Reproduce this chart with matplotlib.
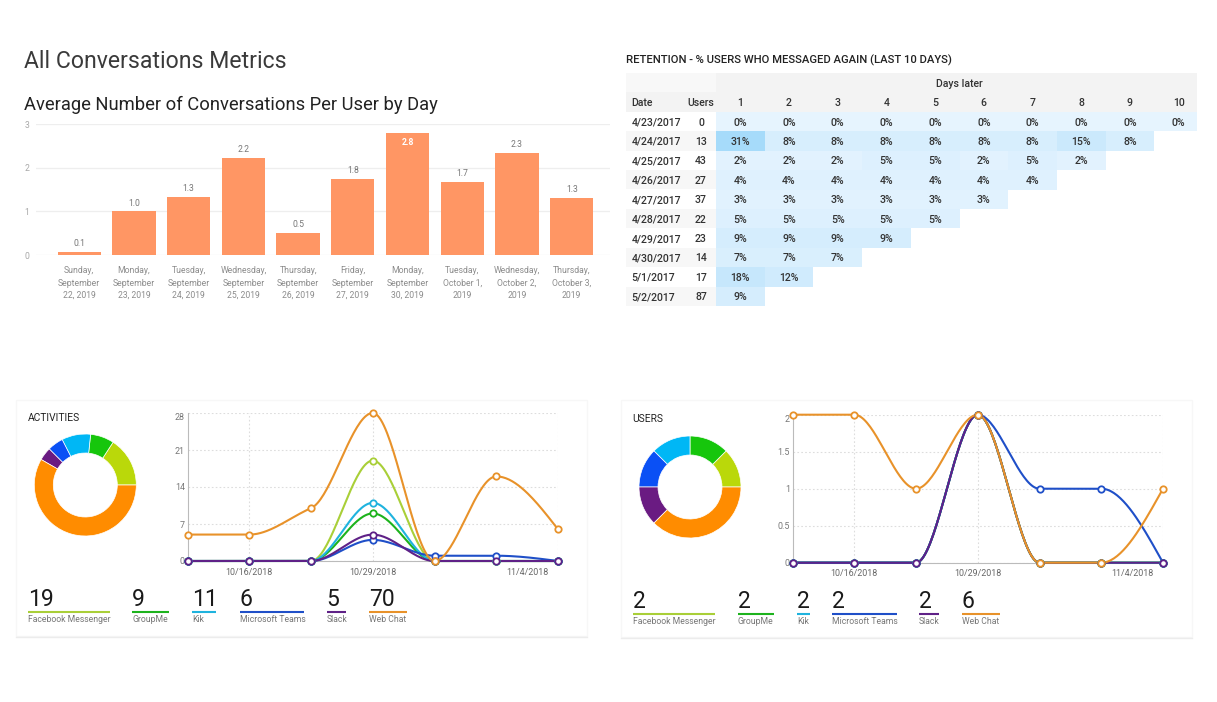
"""All Conversations Metrics dashboard: bars, retention table, two activity cards."""
import matplotlib

matplotlib.use("Agg")
import matplotlib.pyplot as plt
import numpy as np
from matplotlib.colors import LinearSegmentedColormap
from matplotlib.patches import Rectangle

W, H = 1217, 702
FONT = ["Roboto", "Noto Sans", "DejaVu Sans"]
plt.rcParams["font.family"] = FONT

# --- bar chart
day_labels = [
    "Sunday,\nSeptember\n22, 2019", "Monday,\nSeptember\n23, 2019", "Tuesday,\nSeptember\n24, 2019",
    "Wednesday,\nSeptember\n25, 2019", "Thursday,\nSeptember\n26, 2019", "Friday,\nSeptember\n27, 2019",
    "Monday,\nSeptember\n30, 2019", "Tuesday,\nOctober 1,\n2019", "Wednesday,\nOctober 2,\n2019",
    "Thursday,\nOctober 3,\n2019",
]
avg_conversations = [0.08, 1.0, 1.33, 2.22, 0.5, 1.75, 2.8, 1.67, 2.34, 1.3]
avg_labels = ["0.1", "1.0", "1.3", "2.2", "0.5", "1.8", "2.8", "1.7", "2.3", "1.3"]

# --- retention table
retention_dates = ["4/23/2017", "4/24/2017", "4/25/2017", "4/26/2017", "4/27/2017",
                   "4/28/2017", "4/29/2017", "4/30/2017", "5/1/2017", "5/2/2017"]
retention_users = [0, 13, 43, 27, 37, 22, 23, 14, 17, 87]
retention_pct = [
    [0, 0, 0, 0, 0, 0, 0, 0, 0, 0],
    [31, 8, 8, 8, 8, 8, 8, 15, 8],
    [2, 2, 2, 5, 5, 2, 5, 2],
    [4, 4, 4, 4, 4, 4, 4],
    [3, 3, 3, 3, 3, 3],
    [5, 5, 5, 5, 5],
    [9, 9, 9, 9],
    [7, 7, 7],
    [18, 12],
    [9],
]

# --- activity cards
channels = ["Facebook Messenger", "GroupMe", "Kik", "Microsoft Teams", "Slack", "Web Chat"]
activity_totals = [19, 9, 11, 6, 5, 70]
user_totals = [2, 2, 2, 2, 2, 6]
activity_series = [
    [0, 0, 0, 19, 0, 0, 0],
    [0, 0, 0, 9, 0, 0, 0],
    [0, 0, 0, 11, 0, 0, 0],
    [0, 0, 0, 4, 1, 1, 0],
    [0, 0, 0, 5, 0, 0, 0],
    [5, 5, 10, 28, 0, 16, 6],
]
user_series = [
    [0, 0, 0, 2, 0, 0, 0],
    [0, 0, 0, 2, 0, 0, 0],
    [0, 0, 0, 2, 0, 0, 0],
    [0, 0, 0, 2, 1, 1, 0],
    [0, 0, 0, 2, 0, 0, 0],
    [2, 2, 1, 2, 0, 0, 1],
]
date_ticks = ["10/16/2018", "10/29/2018", "11/4/2018"]

DONUT_COLORS = ["#bad80a", "#16c60c", "#00b7f5", "#0a50f5", "#6a1b82", "#ff8c00"]
LINE_COLORS = ["#a9cf38", "#1db31d", "#1fb3de", "#1f4fc8", "#5f2187", "#e8922a"]


def px_axes(fig, x0, y0, x1, y1, **kw):
    """Axes placed by pixel box, y measured from the top of the image."""
    return fig.add_axes([x0 / W, 1 - y1 / H, (x1 - x0) / W, (y1 - y0) / H], **kw)


def monotone_curve(y, n=40):
    """Same curve as d3 curveMonotoneX, for unit spaced x."""
    y = np.asarray(y, dtype=float)
    d = np.diff(y)
    m = np.zeros(len(y))
    for i in range(1, len(y) - 1):
        if d[i - 1] * d[i] > 0:
            m[i] = np.sign(d[i]) * min(abs(d[i - 1]), abs(d[i]), 0.25 * abs(d[i - 1] + d[i]))
    m[0] = (3 * d[0] - m[1]) / 2
    m[-1] = (3 * d[-1] - m[-2]) / 2
    xs, ys = [], []
    t = np.linspace(0, 1, n)
    for i in range(len(y) - 1):
        h00 = 2 * t**3 - 3 * t**2 + 1
        h10 = t**3 - 2 * t**2 + t
        h01 = -2 * t**3 + 3 * t**2
        h11 = t**3 - t**2
        xs.append(i + t)
        ys.append(h00 * y[i] + h10 * m[i] + h01 * y[i + 1] + h11 * m[i + 1])
    return np.concatenate(xs), np.concatenate(ys)


fig = plt.figure(figsize=(W / 100, H / 100), dpi=100, facecolor="white")

# overlay in image pixels for titles, cards and legend strips
bg = fig.add_axes([0, 0, 1, 1])
bg.set_xlim(0, W)
bg.set_ylim(H, 0)
bg.axis("off")

bg.text(24, 62, "All Conversations Metrics", fontsize=16.6, color="#3a3a3a", va="center")
bg.text(24, 105, "Average Number of Conversations Per User by Day", fontsize=13.2, color="#222222", va="center")
bg.text(626, 60, "RETENTION - % USERS WHO MESSAGED AGAIN (LAST 10 DAYS)", fontsize=8.1, color="#222222",
        va="center", fontweight="medium")

# bars
ax = px_axes(fig, 36, 124, 610, 255)
ax.patch.set_alpha(0)
x = np.arange(len(avg_conversations))
ax.bar(x, avg_conversations, width=0.79, color="#ff9664", zorder=3)
ax.set_xlim(-0.79, 9.70)
ax.set_ylim(0, 3)
ax.set_yticks([0, 1, 2, 3])
ax.set_xticks(x, day_labels)
ax.grid(axis="y", color="#eeeeee", lw=0.9, zorder=0)
ax.tick_params(axis="y", length=0, labelsize=6.2, labelcolor="#a8a8a8", pad=5)
ax.tick_params(axis="x", length=0, labelsize=6.2, labelcolor="#8c8c8c", pad=8)
for lab in ax.get_xticklabels():
    lab.set_linespacing(1.5)
for s in ax.spines.values():
    s.set_visible(False)
for i, (v, txt) in enumerate(zip(avg_conversations, avg_labels)):
    if v > 2.7:
        ax.text(i, v - 0.22, txt, ha="center", va="center", fontsize=6.2, color="white", fontweight="bold", zorder=4)
    else:
        ax.text(i, v + 0.19, txt, ha="center", va="center", fontsize=6.2, color="#777777", zorder=4)

# retention table, one unit per day column
tb = px_axes(fig, 626, 73, 1197, 306)
n_days = 10
COL = 48.7
left = 0.5 - 90 / COL
tb.set_xlim(left, left + 571 / COL)
tb.set_ylim(12, 0)
tb.axis("off")
tb.add_patch(Rectangle((left, 0), 0.5 - left, 1, color="#f8f8f8", lw=0))
tb.add_patch(Rectangle((0.5, 0), n_days + 1, 2, color="#f3f3f3", lw=0))
tb.add_patch(Rectangle((left, 1), 0.5 - left, 1, color="#f3f3f3", lw=0))
for r in range(1, 10, 2):
    tb.add_patch(Rectangle((left, r + 2), 0.5 - left, 1, color="#f7f7f7", lw=0))

grid = np.full((len(retention_pct), n_days), np.nan)
for r, row in enumerate(retention_pct):
    grid[r, : len(row)] = row
heat = LinearSegmentedColormap.from_list("ret", ["#e6f4fe", "#d3ecfd", "#c2e5fb", "#a6dbfa"])
tb.pcolormesh(np.arange(n_days + 1) + 0.5, np.arange(len(retention_pct) + 1) + 2,
              np.ma.masked_invalid(grid), cmap=heat, vmin=0, vmax=31)

TXT = "#333333"
FS = 7.6
tb.text(5.5, 0.55, "Days later", ha="center", va="center", fontsize=FS, color=TXT, fontweight="medium")
tb.text(left + 0.11, 1.55, "Date", va="center", fontsize=FS, color=TXT, fontweight="medium")
tb.text(left + 1.54, 1.55, "Users", ha="center", va="center", fontsize=FS, color=TXT, fontweight="medium")
for d in range(1, n_days + 1):
    tb.text(d, 1.55, str(d), ha="center", va="center", fontsize=FS, color=TXT, fontweight="medium")
for r, row in enumerate(retention_pct):
    tb.text(left + 0.11, r + 2.55, retention_dates[r], va="center", fontsize=FS, color=TXT, fontweight="medium")
    tb.text(left + 1.54, r + 2.55, str(retention_users[r]), ha="center", va="center", fontsize=FS, color=TXT, fontweight="medium")
    for c, v in enumerate(row):
        tb.text(c + 1, r + 2.55, f"{v}%", ha="center", va="center", fontsize=FS, color=TXT, fontweight="medium")


def draw_card(card_box, title, title_y, totals, series, yticks, yticklabels, donut_xy, line_box,
              strips, strip_y):
    x0, y0, x1, y1 = card_box
    bg.add_patch(Rectangle((x0, y0), x1 - x0, y1 - y0, fc="white", ec="#f7f7f7", lw=1))
    bg.plot([x0, x1], [y1 + 1, y1 + 1], color="#ececec", lw=1)
    bg.text(x0 + 11, title_y, title, fontsize=7.4, color="#222222", va="center")

    # donut
    cx, cy = donut_xy
    R = 51
    da = px_axes(fig, cx - R, cy - R, cx + R, cy + R)
    da.pie(totals, colors=DONUT_COLORS, startangle=0, counterclock=True, radius=1,
           wedgeprops=dict(width=19 / 51, edgecolor="white", linewidth=0.5))
    da.set_xlim(-1, 1)
    da.set_ylim(-1, 1)

    # lines
    la = px_axes(fig, *line_box)
    la.patch.set_alpha(0)
    for vals, col in zip(series, LINE_COLORS):
        cxs, cys = monotone_curve(vals)
        la.plot(cxs, cys, color=col, lw=1.5, clip_on=False, zorder=3)
        la.plot(range(len(vals)), vals, ls="none", marker="o", ms=4.6, mfc="white", mec=col, mew=1.3,
                clip_on=False, zorder=4)
    la.set_xlim(0, 6)
    la.set_ylim(0, yticks[-1])
    la.set_yticks(yticks, yticklabels)
    la.set_xticks([1, 3, 6], ["", "", ""])
    la.grid(color="#dddddd", lw=0.8, ls=(0, (1.5, 2)))
    la.set_axisbelow(True)
    la.tick_params(length=0, labelsize=6.4, labelcolor="#777777", pad=2)
    la.get_yticklabels()[-1].set_verticalalignment("top")
    for s in ("top", "right"):
        la.spines[s].set_visible(False)
    for s in ("left", "bottom"):
        la.spines[s].set_color("#bbbbbb")
    # date labels sit below the axis; the last one is pulled in from the edge
    for pos, txt, ha, dx in zip([1, 3, 6], date_ticks, ["center", "center", "right"], [0, 0, -6.5]):
        la.annotate(txt, (pos, 0), xycoords="data", xytext=(dx, -8), textcoords="offset points",
                    ha=ha, va="center", fontsize=6.4, color="#666666")

    # legend strips
    for (sx0, sx1), total, name, col in zip(strips, totals, channels, LINE_COLORS):
        bg.plot([sx0, sx1], [strip_y, strip_y], color=col, lw=1.5, solid_capstyle="butt")
        bg.text(sx0, strip_y - 6, str(total), fontsize=16.5, color="#1a1a1a", va="baseline")
        bg.text(sx0, strip_y + 8, name, fontsize=6.2, color="#777777", va="center")


draw_card((16.4, 400, 586.6, 636), "ACTIVITIES", 418, activity_totals, activity_series,
          [0, 7, 14, 21, 28], ["0", "7", "14", "21", "28"], (85.3, 485), (187.6, 413, 558, 561),
          [(28, 109.7), (132.3, 169.2), (192.2, 216.2), (239.6, 303.6), (326.5, 346), (368.7, 406.7)], 612)
draw_card((621.4, 400, 1191.6, 637), "USERS", 419, user_totals, user_series,
          [0, 0.5, 1, 1.5, 2], ["0", "0.5", "1", "1.5", "2"], (690, 487), (792.6, 414.7, 1163, 562.7),
          [(633, 714.7), (737.7, 774.2), (797.2, 809.6), (832.2, 896.5), (918.7, 938.7), (961.6, 999.6)], 613.7)

fig.savefig("out.png", dpi=100)
